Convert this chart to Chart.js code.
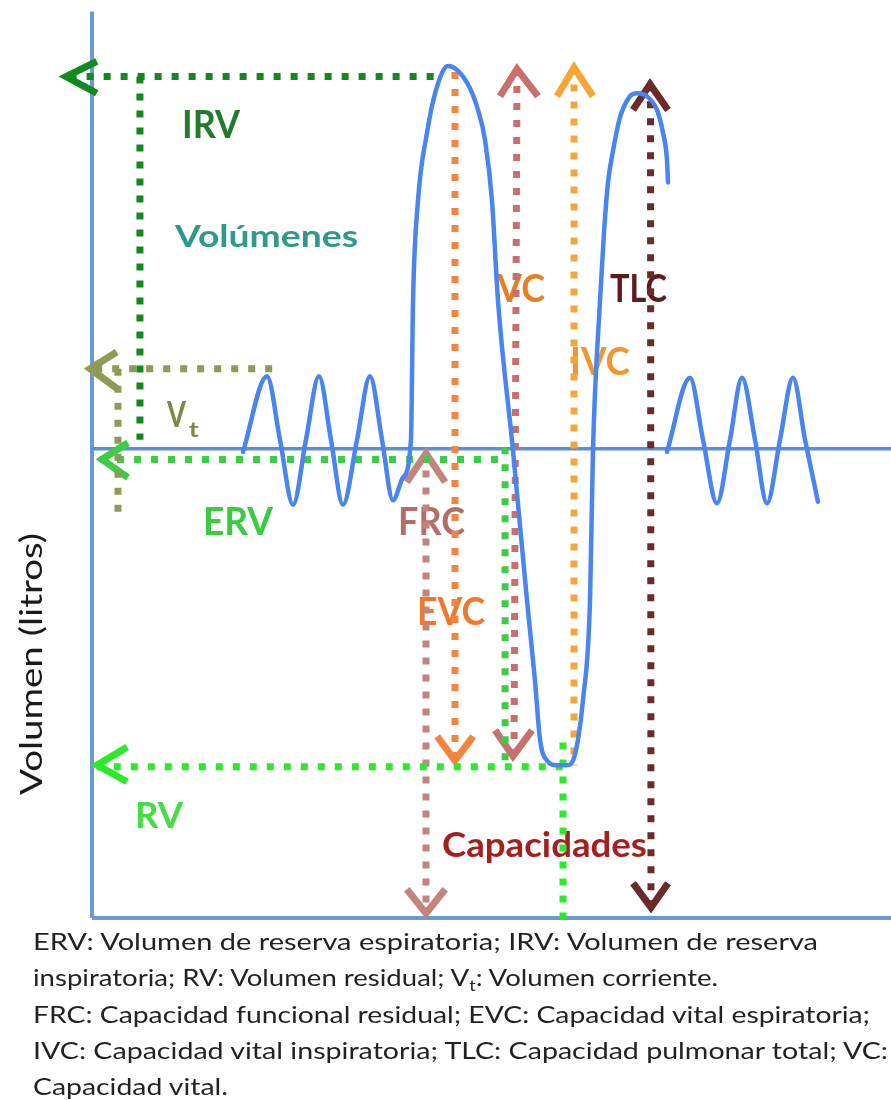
<!DOCTYPE html>
<html lang="es">
<head>
<meta charset="UTF-8">
<script src="https://cdn.jsdelivr.net/npm/chart.js@4.4.1/dist/chart.umd.min.js"></script>
<style>
  body { margin: 0; background: #fff; }
  .wrap { position: relative; width: 891px; height: 1100px; overflow: hidden; }
  canvas { position: absolute; left: 0; top: 0; }
  .caption {
    position: absolute; left: 33px; top: 923px;
    font-family: Lato, "Open Sans", sans-serif; font-size: 23px;
    color: #222;
  }
  .caption div { height: 36.3px; line-height: 36.3px; white-space: nowrap; }
  .caption span { display: inline-block; transform-origin: 0 50%; }
  .caption sub { font-size: 15px; line-height: 0; vertical-align: -5px; }
</style>
<title>Volúmenes y capacidades pulmonares</title>
</head>
<body>
<div class="wrap">
  <canvas id="spiro" width="891" height="930"></canvas>
  <div class="caption">
    <div><span data-w="785">ERV: Volumen de reserva espiratoria; IRV: Volumen de reserva</span></div>
    <div><span data-w="685">inspiratoria; RV: Volumen residual; V<sub>t</sub>: Volumen corriente.</span></div>
    <div><span data-w="837">FRC: Capacidad funcional residual; EVC: Capacidad vital espiratoria;</span></div>
    <div><span data-w="855">IVC: Capacidad vital inspiratoria; TLC: Capacidad pulmonar total; VC:</span></div>
    <div><span data-w="195">Capacidad vital.</span></div>
  </div>
</div>

<script>
// axis ranges (time units, litres)
const X_MIN = -10, X_MAX = 100, Y_MIN = 0, Y_MAX = 6;
const FRC_LEVEL = 3.1;

// spirogram: tidal breathing, maximal inspiration, maximal expiration, inspiration
const traceMain = [
  [18.90, 3.08], [21.90, 3.58], [23.53, 3.16], [25.16, 2.73], [26.78, 3.16],
  [28.41, 3.58], [29.91, 3.16], [31.41, 2.73], [33.17, 3.16], [34.79, 3.58],
  [36.30, 3.16], [37.67, 2.76], [38.92, 2.91], [39.92, 3.16], [40.18, 4.08],
  [40.80, 4.74], [41.93, 5.19], [43.05, 5.47], [44.56, 5.63], [46.93, 5.52],
  [48.31, 5.34], [49.19, 5.14], [50.06, 4.74], [50.81, 4.08], [52.69, 3.09],
  [54.44, 2.10], [55.44, 1.57], [56.07, 1.18], [56.95, 1.04], [58.20, 1.01],
  [59.45, 1.01], [60.20, 1.04], [60.83, 1.18], [61.45, 1.44], [62.33, 2.10],
  [62.70, 3.09], [63.58, 4.08], [64.08, 4.53], [64.58, 4.86], [65.21, 5.07],
  [66.08, 5.29], [67.33, 5.43], [68.21, 5.45], [69.46, 5.43], [70.71, 5.34],
  [71.46, 5.19], [71.96, 5.01], [72.09, 4.86]
];
// tidal breathing after the manoeuvre
const traceEnd = [
  [71.96, 3.08], [74.84, 3.57], [76.47, 3.16], [78.22, 2.74], [79.85, 3.16],
  [81.35, 3.57], [82.98, 3.16], [84.48, 2.74], [86.11, 3.16], [87.73, 3.57],
  [89.24, 3.16], [90.86, 2.75]
];

// volume guides
const irvLine = [[-2.8, 5.56], [43.5, 5.56]];
const irvDrop = [[6.0, 5.56], [6.0, 3.16]];
const irvArrow = [[0.6, 5.66], [-3.25, 5.56], [0.6, 5.45]];

const vtLine = [[0.4, 3.63], [23.15, 3.63]];
const vtDrop = [[3.25, 3.63], [3.25, 2.68]];
const vtArrow = [[3.1, 3.74], [-0.25, 3.63], [3.1, 3.50]];

const ervLine = [[1.0, 3.03], [51.9, 3.03]];
const ervDrop = [[51.7, 3.11], [51.7, 0.98]];
const ervArrow = [[4.5, 3.14], [1.25, 3.03], [4.5, 2.91]];

const rvLine = [[0.6, 1.0], [59.3, 1.0]];
const rvDrop = [[58.95, 1.16], [58.95, -0.05]];
const rvArrow = [[4.4, 1.13], [0.63, 1.01], [4.4, 0.90]];

// capacity guides
const frcLine = [[41.8, 3.07], [41.8, 0.03]];
const frcUp = [[39.4, 2.88], [41.8, 3.07], [44.2, 2.88]];
const frcDown = [[39.4, 0.19], [41.8, 0.03], [44.2, 0.19]];

const evcLine = [[45.43, 5.59], [45.43, 1.05]];
const evcDown = [[43.2, 1.20], [45.43, 1.04], [47.7, 1.20]];

const vcLine = [[53.19, 5.61], [52.82, 1.07]];
const vcUp = [[51.06, 5.43], [53.19, 5.61], [55.82, 5.43]];
const vcDown = [[50.44, 1.24], [52.69, 1.07], [55.07, 1.24]];

const ivcLine = [[60.33, 5.62], [60.33, 1.01]];
const ivcUp = [[58.2, 5.43], [60.33, 5.62], [62.7, 5.43]];

const tlcLine = [[69.9, 5.51], [69.96, 0.07]];
const tlcUp = [[67.71, 5.34], [69.84, 5.51], [72.09, 5.34]];
const tlcDown = [[67.71, 0.23], [69.96, 0.07], [72.09, 0.23]];

// frame
const yAxisLine = [[0, 0], [0, 5.99]];
const xAxisLine = [[0, 0], [100, 0]];
const restLine = [[0, FRC_LEVEL], [100, FRC_LEVEL]];

// labels: left edge / baseline in data units, cap height and width in px
const annotations = [
  { text: 'IRV', x: 11.26, y: 5.154, cap: 28, w: 58, color: '#247a2c' },
  { text: 'Volúmenes', x: 10.39, y: 4.434, cap: 22, w: 183, color: '#2e9a8a' },
  { text: 'V', x: 9.39, y: 3.245, cap: 26, w: 19, color: '#7d8a46' },
  { text: 't', x: 12.1, y: 3.178, cap: 15, w: 10, color: '#7d8a46' },
  { text: 'ERV', x: 13.89, y: 2.531, cap: 27, w: 70, color: '#3acb45' },
  { text: 'FRC', x: 38.3, y: 2.531, cap: 27, w: 67, color: '#b46e68' },
  { text: 'EVC', x: 40.68, y: 1.936, cap: 27, w: 68, color: '#f0772f' },
  { text: 'VC', x: 50.69, y: 4.071, cap: 28, w: 48, color: '#e68026' },
  { text: 'TLC', x: 64.83, y: 4.071, cap: 28, w: 57, color: '#5c1c1c' },
  { text: 'IVC', x: 59.82, y: 3.586, cap: 27, w: 60, color: '#f0962d' },
  { text: 'RV', x: 5.38, y: 0.595, cap: 26, w: 48, color: '#44dd44' },
  { text: 'Capacidades', x: 43.8, y: 0.403, cap: 24, w: 205, color: '#a51f1f' },
  { text: 'Volumen (litros)', x: -6.26, y: 0.813, cap: 22, w: 262, color: '#1a1a1a', weight: 'normal', rotate: -Math.PI / 2 }
];

function pts(arr) {
  return arr.map(([x, y]) => ({ x, y }));
}

function line(arr, color, width, dashed) {
  return {
    data: pts(arr),
    showLine: true,
    borderColor: color,
    borderWidth: width,
    borderDash: dashed ? [7, 10] : [],
    borderCapStyle: 'butt',
    borderJoinStyle: 'miter',
    pointRadius: 0,
    clip: false,
    tension: 0
  };
}

function trace(arr) {
  const d = line(arr, '#4a84ee', 4.5, false);
  d.cubicInterpolationMode = 'monotone';
  d.borderJoinStyle = 'round';
  d.borderCapStyle = 'round';
  return d;
}

const labelPlugin = {
  id: 'labels',
  beforeDatasetsDraw(chart) {
    const { ctx, scales: { x, y } } = chart;
    annotations.forEach(a => {
      const size = a.cap / 0.717;
      ctx.save();
      ctx.font = `${a.weight || 'bold'} ${size}px Lato`;
      const m = ctx.measureText(a.text).width;
      ctx.translate(x.getPixelForValue(a.x), y.getPixelForValue(a.y));
      if (a.rotate) ctx.rotate(a.rotate);
      ctx.scale(a.w / m, 1);
      ctx.fillStyle = a.color;
      ctx.textBaseline = 'alphabetic';
      ctx.textAlign = 'left';
      ctx.fillText(a.text, 0, 0);
      ctx.restore();
    });
  }
};

const C = {
  irv: '#12891f', vt: '#8e9a55', erv: '#3dcc45', rv: '#2aea2a',
  frc: '#c2847c', evc: '#f5843e', vc: '#c8706e', ivc: '#f6a636', tlc: '#6b2b2b'
};

new Chart(document.getElementById('spiro'), {
  type: 'scatter',
  data: {
    datasets: [
      trace(traceMain),
      trace(traceEnd),
      line(irvArrow, C.irv, 7), line(irvLine, C.irv, 7, true), line(irvDrop, C.irv, 7, true),
      line(vtArrow, C.vt, 7), line(vtLine, C.vt, 7, true), line(vtDrop, C.vt, 7, true),
      line(ervArrow, C.erv, 7), line(ervLine, C.erv, 7, true), line(ervDrop, C.erv, 7, true),
      line(rvArrow, C.rv, 7), line(rvLine, C.rv, 7, true), line(rvDrop, C.rv, 7, true),
      line(frcUp, C.frc, 7), line(frcDown, C.frc, 7), line(frcLine, C.frc, 7, true),
      line(evcDown, C.evc, 7), line(evcLine, C.evc, 7, true),
      line(vcUp, C.vc, 7), line(vcDown, C.vc, 7), line(vcLine, C.vc, 7, true),
      line(ivcUp, C.ivc, 7), line(ivcLine, C.ivc, 7, true),
      line(tlcUp, C.tlc, 7), line(tlcDown, C.tlc, 7), line(tlcLine, C.tlc, 7, true),
      line(restLine, '#5b8fd9', 3.5),
      line(xAxisLine, '#6a9ad6', 4),
      line(yAxisLine, '#6a9ad6', 4)
    ]
  },
  options: {
    responsive: false,
    animation: false,
    devicePixelRatio: 1,
    events: [],
    layout: { padding: { left: 12.1, right: 0, top: 10, bottom: 12 } },
    scales: {
      x: { type: 'linear', min: X_MIN, max: X_MAX, display: false },
      y: { type: 'linear', min: Y_MIN, max: Y_MAX, display: false }
    },
    plugins: { legend: { display: false }, tooltip: { enabled: false } }
  },
  plugins: [labelPlugin]
});

// squeeze each caption line to the width it has in the reference
document.querySelectorAll('.caption span').forEach(s => {
  const w = s.getBoundingClientRect().width;
  s.style.transform = `scaleX(${s.dataset.w / w})`;
});
</script>
</body>
</html>
